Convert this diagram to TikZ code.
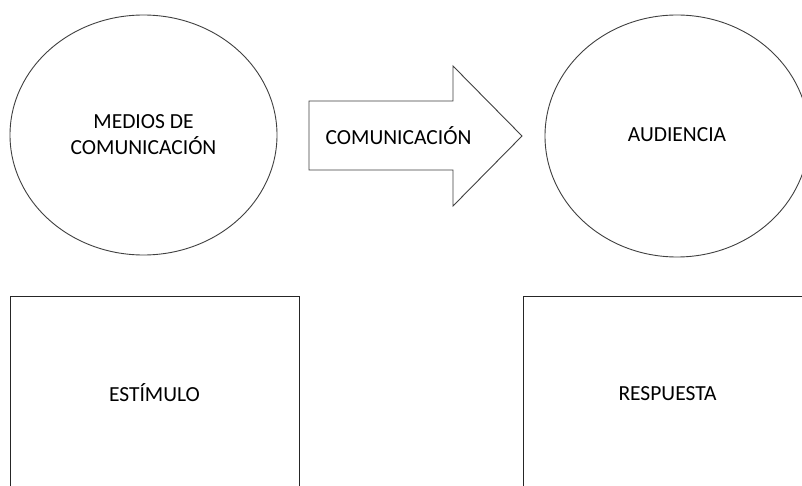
\documentclass[tikz,border=0pt]{standalone}
\usepackage{fontspec}
\setmainfont{Carlito}
\usetikzlibrary{shapes.geometric}
\begin{document}
\begin{tikzpicture}[x=1pt,y=-1pt,
  shapeline/.style={draw=black!75, line width=0.9pt},
  oval/.style={shapeline, ellipse, inner sep=0pt, align=center, font=\fontsize{21.5}{26}\selectfont},
  box/.style={draw=black!85, line width=0.9pt, rectangle, inner sep=0pt},
  lbl/.style={inner sep=0pt, font=\fontsize{21.5}{26}\selectfont}]
\useasboundingbox (0,0) rectangle (802,486);
\fill[white] (0,0) rectangle (802,486);
\clip (0,0) rectangle (802,486);
\node[oval, minimum width=267pt, minimum height=240pt] (medios) at (143.5,135) {MEDIOS DE\\COMUNICACIÓN};
\node[oval, minimum width=264pt, minimum height=242pt] (audiencia) at (677,136) {};
\node[lbl] (audtxt) at (677,135) {AUDIENCIA};
\draw[shapeline] (309,101) -- (453,101) -- (453,66) -- (522,136) -- (453,206) -- (453,170) -- (309,170) -- cycle;
\node[lbl] (com) at (398.5,136) {COMUNICACIÓN};
\node[box, minimum width=289pt, minimum height=198pt] (estimulo) at (154.5,395) {};
\node[box, minimum width=289pt, minimum height=198pt] (respuesta) at (667.5,395) {};
\node[lbl] (esttxt) at (154.5,393) {ESTÍMULO};
\node[lbl] (restxt) at (667.5,394) {RESPUESTA};
\end{tikzpicture}
\end{document}
